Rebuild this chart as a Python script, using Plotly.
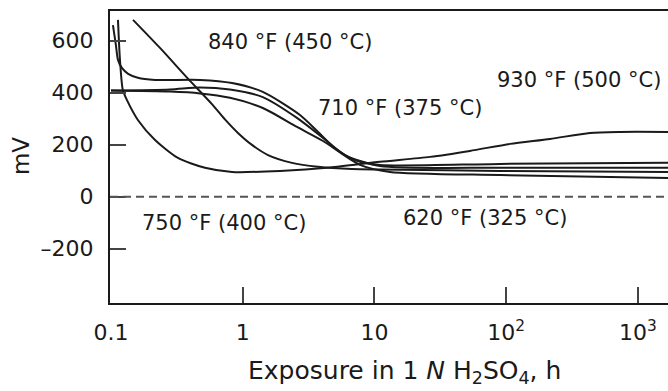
import math
import plotly.graph_objects as go

# ---- data (exposure time in hours, potential in mV) ----
curve_a_h = [0.147, 0.2355, 0.384, 0.584, 0.733, 0.92, 1.175, 1.555, 2.366, 3.73, 6.75, 11.0, 90.0, 1690]
curve_a_mv = [680, 572, 454, 356, 297, 245, 199, 160, 130, 115, 106, 104, 99, 95]

curve_b_h = [0.1035, 0.109, 0.113, 0.121, 0.135, 0.160, 0.216, 0.474, 0.83, 1.42, 2.72, 3.73, 5.0, 7.1, 11.0, 90.0, 1690]
curve_b_mv = [660, 583, 526, 495, 472, 457, 449, 449, 437, 403, 314, 249, 187, 141, 122, 126, 130]

curve_c_h = [0.113, 0.117, 0.123, 0.132, 0.160, 0.216, 0.3225, 0.517, 0.83, 1.92, 4.59, 11.0, 26.4, 53.0, 107, 215, 432, 730, 1690]
curve_c_mv = [680, 526, 410, 372, 295, 218, 149, 111, 95, 99, 112, 134, 153, 176, 203, 222, 245, 249, 249]

curve_d_h = [0.1, 0.28, 0.474, 0.80, 1.42, 2.58, 4.07, 5.97, 11.0, 90.0, 1690]
curve_d_mv = [408, 412, 420, 412, 383, 303, 226, 160, 118, 111, 111]

curve_e_h = [0.1, 0.28, 0.474, 0.80, 1.42, 2.58, 4.07, 7.76, 13.1, 90.0, 1690]
curve_e_mv = [408, 404, 397, 380, 341, 268, 214, 122, 95, 83, 72]

label_texts = ["840 °F (450 °C)", "710 °F (375 °C)", "930 °F (500 °C)", "750 °F (400 °C)", "620 °F (325 °C)"]
label_h = [2.285, 15.61, 359.7, 0.727, 69.6]
label_mv = [595, 341, 449, -101, -82]

x_tick_vals = [0.1, 1, 10, 100, 1000]
x_tick_text = ["0.1", "1", "10", "10<sup>2</sup>", "10<sup>3</sup>"]
y_tick_vals = [-200, 0, 200, 400, 600]
y_tick_text = ["\u2013200", "0", "200", "400", "600"]

x_range_h = [0.0983, 1690]
y_range_mv = [-409, 714]

FONT = "DejaVu Sans, Liberation Sans, Arial, sans-serif"
INK = "#1a1a1a"

fig = go.Figure()
for xs, ys in [(curve_a_h, curve_a_mv), (curve_b_h, curve_b_mv), (curve_c_h, curve_c_mv),
               (curve_d_h, curve_d_mv), (curve_e_h, curve_e_mv)]:
    fig.add_trace(go.Scatter(x=xs, y=ys, mode="lines",
                             line=dict(color=INK, width=2, shape="spline", smoothing=0.7),
                             showlegend=False, hoverinfo="skip"))

fig.add_hline(y=0, line=dict(color="#555555", width=2, dash="8px,5px"))

for t, h, mv in zip(label_texts, label_h, label_mv):
    fig.add_annotation(x=math.log10(h), y=mv, text=t, showarrow=False,
                       font=dict(family=FONT, size=21, color=INK), xanchor="center", yanchor="middle")

fig.add_annotation(xref="paper", yref="paper", x=0.527, y=-0.236,
                   text="Exposure in 1 <i>N</i> H<sub>2</sub>SO<sub>4</sub>, h", showarrow=False,
                   font=dict(family=FONT, size=25, color=INK), xanchor="center", yanchor="middle")
fig.add_annotation(xref="paper", yref="paper", x=-0.1595, y=0.503, text="mV", textangle=-90,
                   showarrow=False, font=dict(family=FONT, size=23, color=INK),
                   xanchor="center", yanchor="middle")

fig.update_xaxes(type="log", range=[math.log10(x_range_h[0]), math.log10(x_range_h[1])],
                 tickvals=x_tick_vals, ticktext=x_tick_text, ticks="inside", ticklen=16,
                 tickwidth=1.5, tickcolor="#444444", showgrid=False, zeroline=False,
                 showline=True, linecolor=INK, linewidth=2, mirror=True, automargin=False,
                 tickfont=dict(family=FONT, size=22, color=INK), ticklabelstandoff=9)
fig.update_yaxes(range=y_range_mv, tickvals=y_tick_vals, ticktext=y_tick_text, ticks="inside",
                 ticklen=16, tickwidth=1.5, tickcolor="#444444", showgrid=False, zeroline=False,
                 showline=True, linecolor=INK, linewidth=2, mirror=False, automargin=False,
                 tickfont=dict(family=FONT, size=22, color=INK), ticklabelstandoff=10)

fig.update_layout(width=668, height=391, margin=dict(l=110, r=0, t=11, b=88),
                  plot_bgcolor="white", paper_bgcolor="white", showlegend=False)

fig.write_html("out.html", config={"displayModeBar": False},
               post_script="document.body.style.margin='0';")
